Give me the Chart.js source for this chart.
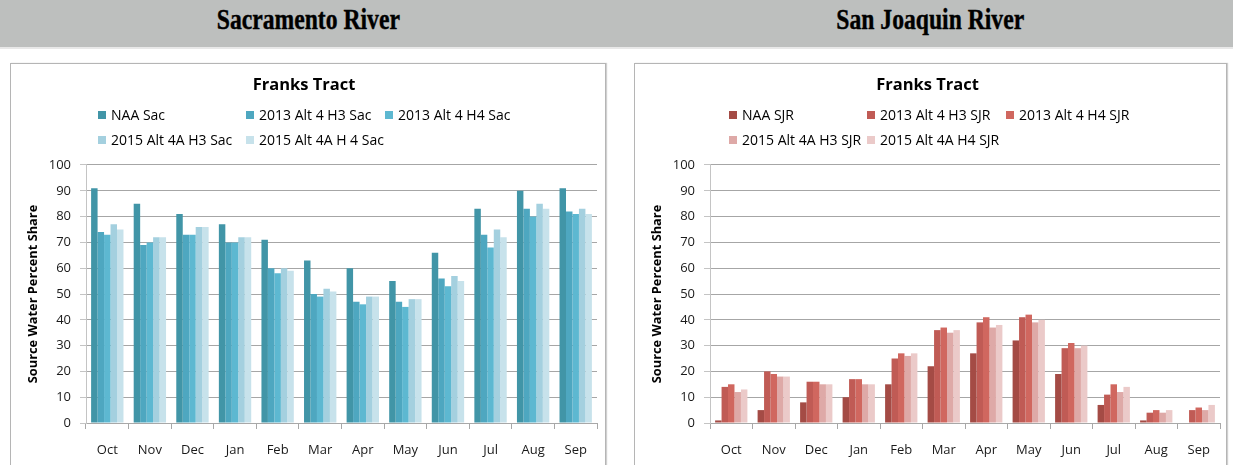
<!DOCTYPE html>
<html>
<head>
<meta charset="utf-8">
<script src="https://cdn.jsdelivr.net/npm/chart.js@4.4.1/dist/chart.umd.min.js"></script>
<style>
  body { margin: 0; width: 1233px; height: 465px; overflow: hidden; background: #fff; font-family: "Open Sans", sans-serif; }
  .hdr { position: absolute; left: 0; top: 0; width: 1233px; height: 47px; background: #bdbfbe; border-bottom: 2px solid #e8e8e8; }
  .hdr div { position: absolute; top: 3px; height: 44px; line-height: 40px; text-align: center; font: bold 29px "Liberation Serif", serif; color: #000; }
  .hdr span { display: inline-block; transform: scaleX(0.815); -webkit-text-stroke: 0.4px #000; }
  .box { position: absolute; top: 63px; height: 420px; border: 1px solid #b5b5b5; box-shadow: 1px 0 1px #d0d0d0; background: #fff; }
  .box canvas { position: absolute; left: 0; top: 0; }
  .legend { position: absolute; display: grid; row-gap: 0; font-size: 14px; color: #000; }
  .legend div { height: 25px; line-height: 25px; white-space: nowrap; }
  .legend i { display: inline-block; width: 8px; height: 8px; margin-right: 5px; vertical-align: 1px; }
</style>
</head>
<body>
<div class="hdr">
  <div style="left:0;width:616px"><span>Sacramento River</span></div>
  <div style="left:616px;width:628px"><span>San Joaquin River</span></div>
</div>
<div class="box" style="left:10px;width:594px">
  <canvas id="sac" width="594" height="401" style="width:594px;height:401px"></canvas>
  <div class="legend" id="sacLegend" style="left:87px;top:38px;grid-template-columns:148px 139px auto"></div>
</div>
<div class="box" style="left:634px;width:591px">
  <canvas id="sjr" width="591" height="401" style="width:591px;height:401px"></canvas>
  <div class="legend" id="sjrLegend" style="left:94px;top:38px;grid-template-columns:138px 139px auto"></div>
</div>
<script>
// categorias y ejes
const months = ['Oct', 'Nov', 'Dec', 'Jan', 'Feb', 'Mar', 'Apr', 'May', 'Jun', 'Jul', 'Aug', 'Sep'];
const yMin = 0, yMax = 100, yStep = 10;

// Sacramento
const sacNames = ['NAA Sac', '2013 Alt 4 H3 Sac', '2013 Alt 4 H4 Sac', '2015 Alt 4A H3 Sac', '2015 Alt 4A H 4 Sac'];
const sacColors = ['#4195a7', '#4ea7c0', '#5db8d1', '#a4d0df', '#c7e2eb'];
const sacNAA    = [91, 85, 81, 77, 71, 63, 60, 55, 66, 83, 90, 91];
const sac13H3   = [74, 69, 73, 70, 60, 50, 47, 47, 56, 73, 83, 82];
const sac13H4   = [73, 70, 73, 70, 58, 49, 46, 45, 53, 68, 80, 81];
const sac15H3   = [77, 72, 76, 72, 60, 52, 49, 48, 57, 75, 85, 83];
const sac15H4   = [75, 72, 76, 72, 59, 51, 49, 48, 55, 72, 83, 81];

// San Joaquin
const sjrNames = ['NAA SJR', '2013 Alt 4 H3 SJR', '2013 Alt 4 H4 SJR', '2015 Alt 4A H3 SJR', '2015 Alt 4A H4 SJR'];
const sjrColors = ['#a44b45', '#c05b55', '#d0675f', '#dea9a7', '#ebcac9'];
const sjrNAA    = [1, 5, 8, 10, 15, 22, 27, 32, 19, 7, 1, 0];
const sjr13H3   = [14, 20, 16, 17, 25, 36, 39, 41, 29, 11, 4, 5];
const sjr13H4   = [15, 19, 16, 17, 27, 37, 41, 42, 31, 15, 5, 6];
const sjr15H3   = [12, 18, 15, 15, 26, 35, 37, 39, 29, 12, 4, 5];
const sjr15H4   = [13, 18, 15, 15, 27, 36, 38, 40, 30, 14, 5, 7];

const tickFont = { family: 'Open Sans', size: 13 };

function makeChart(id, names, colors, series, padRight) {
  const datasets = series.map((vals, i) => ({
    label: names[i],
    data: vals,
    backgroundColor: colors[i],
    borderWidth: 0,
    categoryPercentage: 0.76,
    barPercentage: 1.0
  }));

  new Chart(document.getElementById(id), {
    type: 'bar',
    data: { labels: months, datasets: datasets },
    options: {
      responsive: false,
      animation: false,
      layout: { padding: { left: 0, right: padRight, top: 0, bottom: 0 } },
      plugins: {
        legend: { display: false },
        tooltip: { enabled: false },
        title: {
          display: true,
          text: 'Franks Tract',
          color: '#000',
          font: { family: 'Open Sans', size: 16.5, weight: 'bold' },
          padding: { top: 11.1, bottom: 70.1 }
        }
      },
      scales: {
        x: {
          grid: { offset: true, drawOnChartArea: false, tickLength: 6, color: '#a8a8a8' },
          border: { color: '#a8a8a8' },
          ticks: { color: '#1a1a1a', font: tickFont, padding: 13, maxRotation: 0 },
          afterFit: s => { s.height = 42; }
        },
        y: {
          min: yMin,
          max: yMax,
          ticks: { stepSize: yStep, color: '#1a1a1a', font: tickFont, padding: 9 },
          grid: { color: '#a6a6a6', tickColor: '#c4c4c4', tickLength: 6 },
          border: { color: '#c4c4c4' },
          title: {
            display: true,
            text: 'Source Water Percent Share',
            color: '#000',
            font: { family: 'Open Sans', size: 12.8, weight: 'bold' },
            padding: { top: 15, bottom: 0 }
          },
          afterFit: s => { s.width = 75; }
        }
      }
    }
  });

  // leyenda en html (columnas como excel)
  const leg = document.getElementById(id + 'Legend');
  names.forEach((n, i) => {
    const d = document.createElement('div');
    d.innerHTML = '<i style="background:' + colors[i] + '"></i>' + n;
    leg.appendChild(d);
  });
}

makeChart('sac', sacNames, sacColors, [sacNAA, sac13H3, sac13H4, sac15H3, sac15H4], 8);
makeChart('sjr', sjrNames, sjrColors, [sjrNAA, sjr13H3, sjr13H4, sjr15H3, sjr15H4], 6);
</script>
</body>
</html>
